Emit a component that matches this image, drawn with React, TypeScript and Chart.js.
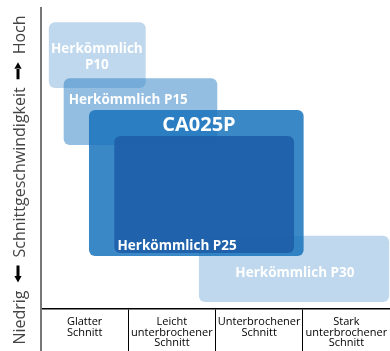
import React, { useEffect, useRef } from 'react';
import { Chart, registerables } from 'chart.js';

Chart.register(...registerables);

// Categories on the x axis (multi-line labels)
const categories: string[][] = [
  ['Glatter', 'Schnitt'],
  ['Leicht', 'unterbrochener', 'Schnitt'],
  ['Unterbrochener', 'Schnitt'],
  ['Stark', 'unterbrochener', 'Schnitt'],
];

// Boxes (drawn in this order), x in category units 0..4, y in speed units 0..100
const boxLabels: string[][] = [
  ['Herkömmlich', 'P10'],
  ['Herkömmlich P15'],
  ['Herkömmlich P30'],
  ['CA025P'],
  ['Herkömmlich P25'],
];
const boxXStart = [0.09, 0.26, 1.81, 0.55, 0.84];
const boxXEnd = [1.2, 2.02, 3.99, 3.01, 2.9];
const boxYLow = [73.4, 54.5, 2.3, 17.6, 18.6];
const boxYHigh = [95.3, 76.7, 24.3, 66.1, 57.5];
const labelX = [0.64, 1.0, 2.91, 1.81, 1.56];
const labelY = [83.7, 69.4, 12.0, 61.1, 20.9];

const boxColors = [
  'rgba(150,190,225,0.6)',
  'rgba(40,125,195,0.5)',
  'rgba(150,190,225,0.6)',
  'rgba(25,115,188,0.85)',
  'rgba(30,95,168,0.9)',
];
const labelFontSizes = [13.5, 13.5, 13.5, 20, 13.5];

// y-axis title: text parts with arrows between them ('<' = towards low, '>' = towards high)
const yTitleParts = ['Niedrig', '<', 'Schnittgeschwindigkeit', '>', 'Hoch'];

const boxesPlugin = {
  id: 'boxes',
  afterDatasetsDraw(chart: any) {
    const { ctx } = chart;
    const xs = chart.scales.xBox;
    const ys = chart.scales.y;
    ctx.save();
    boxLabels.forEach((_, i) => {
      const l = xs.getPixelForValue(boxXStart[i]);
      const r = xs.getPixelForValue(boxXEnd[i]);
      const t = ys.getPixelForValue(boxYHigh[i]);
      const b = ys.getPixelForValue(boxYLow[i]);
      ctx.beginPath();
      ctx.roundRect(l, t, r - l, b - t, 6);
      ctx.fillStyle = boxColors[i];
      ctx.fill();
    });
    ctx.fillStyle = '#ffffff';
    ctx.textAlign = 'center';
    ctx.textBaseline = 'middle';
    boxLabels.forEach((lines, i) => {
      const size = labelFontSizes[i];
      ctx.font = `bold ${size}px "Open Sans"`;
      const cx = xs.getPixelForValue(labelX[i]);
      const cy = ys.getPixelForValue(labelY[i]);
      const lh = size * 1.2;
      lines.forEach((line, k) => {
        ctx.fillText(line, cx, cy + (k - (lines.length - 1) / 2) * lh);
      });
    });
    ctx.restore();
  },
};

const ARROW_LEN = 17;

const yTitlePlugin = {
  id: 'yTitle',
  afterDraw(chart: any) {
    const { ctx } = chart;
    const gap = 8;
    ctx.save();
    ctx.font = '16px "Open Sans"';
    const isArrow = (p: string) => p === '<' || p === '>';
    const widths = yTitleParts.map((p) => (isArrow(p) ? ARROW_LEN : ctx.measureText(p).width));
    const total = widths.reduce((a, b) => a + b, 0) + gap * (yTitleParts.length - 1);
    ctx.translate(25, 180);
    ctx.rotate(-Math.PI / 2);
    ctx.textAlign = 'left';
    ctx.textBaseline = 'alphabetic';
    let x = -total / 2;
    yTitleParts.forEach((p, i) => {
      if (isArrow(p)) {
        const v = -7;
        const x0 = x;
        const x1 = x + ARROW_LEN;
        const head = 6.5;
        ctx.fillStyle = '#000000';
        ctx.beginPath();
        if (p === '>') {
          ctx.rect(x0, v - 1.5, ARROW_LEN - head + 0.5, 3);
          ctx.moveTo(x1, v);
          ctx.lineTo(x1 - head, v - 3.6);
          ctx.lineTo(x1 - head, v + 3.6);
        } else {
          ctx.rect(x0 + head - 0.5, v - 1.5, ARROW_LEN - head + 0.5, 3);
          ctx.moveTo(x0, v);
          ctx.lineTo(x0 + head, v - 3.6);
          ctx.lineTo(x0 + head, v + 3.6);
        }
        ctx.closePath();
        ctx.fill();
      } else {
        ctx.fillStyle = '#444444';
        ctx.fillText(p, x, 0);
      }
      x += widths[i] + gap;
    });
    ctx.restore();
  },
};

export default function App() {
  const ref = useRef<HTMLCanvasElement>(null);
  useEffect(() => {
    if (!ref.current) return;
    const chart = new Chart(ref.current, {
      type: 'scatter',
      data: {
        labels: categories as any,
        datasets: boxLabels.map((lbl, i) => ({
          label: lbl.join(' '),
          xAxisID: 'xBox',
          yAxisID: 'y',
          data: [
            { x: boxXStart[i], y: boxYLow[i] },
            { x: boxXEnd[i], y: boxYHigh[i] },
          ],
          pointRadius: 0,
          showLine: false,
        })),
      },
      options: {
        responsive: false,
        animation: false,
        layout: { padding: { top: 8, right: 0, left: 0, bottom: 0 } },
        plugins: { legend: { display: false }, tooltip: { enabled: false } },
        scales: {
          x: {
            type: 'category',
            labels: categories as any,
            offset: true,
            position: 'bottom',
            grid: {
              offset: true,
              drawOnChartArea: false,
              drawTicks: true,
              tickLength: 42,
              color: (c: any) => (c.index === 0 ? '#777777' : c.index === 4 ? 'rgba(0,0,0,0)' : '#000000'),
              lineWidth: (c: any) => (c.index === 0 ? 2 : 1),
            },
            border: { display: true, color: '#000000', width: 1.5 },
            ticks: {
              autoSkip: false,
              maxRotation: 0,
              minRotation: 0,
              padding: -34,
              color: '#000000',
              font: { family: '"Open Sans"', size: 11, lineHeight: 0.95 },
            },
            afterFit: (s: any) => {
              s.height = 42;
            },
          },
          xBox: {
            type: 'linear',
            display: false,
            min: 0,
            max: 4,
            position: 'bottom',
          },
          y: {
            type: 'linear',
            min: 0,
            max: 100,
            grid: { display: false },
            ticks: { display: false },
            border: { display: true, color: '#777777', width: 2 },
            afterFit: (s: any) => {
              s.width = 41;
            },
          },
        },
      },
      plugins: [boxesPlugin, yTitlePlugin],
    });
    return () => chart.destroy();
  }, []);
  return (
    <div style={{ position: 'absolute', left: 0, top: 0, width: 390, height: 351 }}>
      <canvas ref={ref} width={390} height={351} />
    </div>
  );
}
